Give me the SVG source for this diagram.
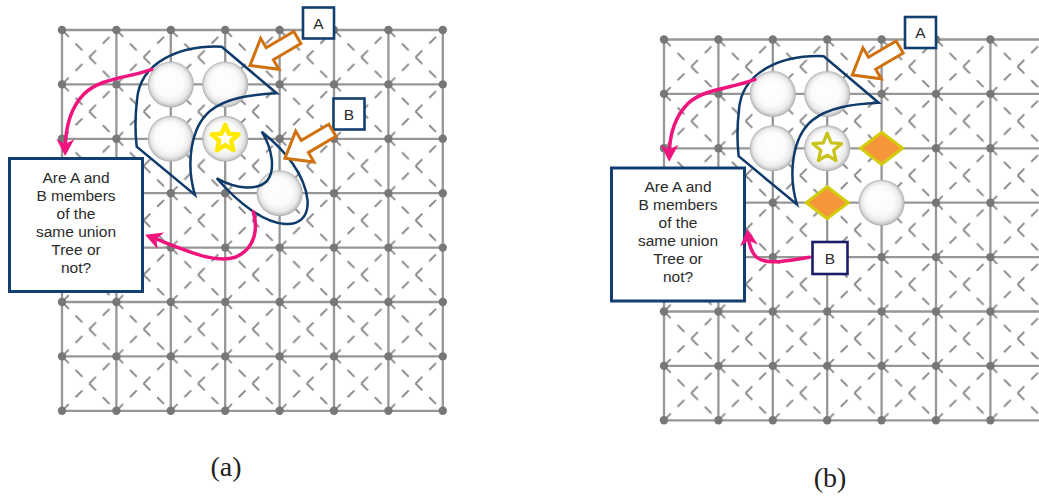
<svg xmlns="http://www.w3.org/2000/svg" width="1039" height="497" viewBox="0 0 1039 497">
<style>
  .gl{fill:none;stroke:#979797;stroke-width:2.3}
  .dot{fill:#777}
  .ball{fill:url(#ballGrad)}
  .set{fill:none;stroke:#0f3b6b;stroke-width:2.5;stroke-linejoin:miter}
  .ptr{fill:#fff;stroke:#d0700f;stroke-width:3;stroke-linejoin:miter}
  .tag{fill:#fff;stroke:#123f6f;stroke-width:2.6}
  .tag-dark{fill:#fff;stroke:#1c1c66;stroke-width:2.6}
  .qbox{fill:#fff;stroke:#123f6f;stroke-width:3}
  .lbl{font-family:"Liberation Sans",Arial,sans-serif;font-size:15.5px;fill:#2b2b2b;text-anchor:middle}
  .pink{fill:none;stroke:#f0147e;stroke-width:3.5;stroke-linecap:round;marker-end:url(#pinkHead)}
  .cap{font-family:"Liberation Serif","Times New Roman",serif;font-size:28px;fill:#222;text-anchor:middle}
  .star-a{fill:#fff;stroke:#ffea00;stroke-width:4.5;stroke-linejoin:round}
  .star-b{fill:#fff;stroke:#c9c31a;stroke-width:3;stroke-linejoin:round}
  .gem{fill:#f7953a;stroke:#d3cc0a;stroke-width:3;stroke-linejoin:miter}
</style>
<defs>
  <radialGradient id="ballGrad" cx="0.5" cy="0.5" r="0.5" fx="0.42" fy="0.38">
    <stop offset="0" stop-color="#ffffff"/>
    <stop offset="0.62" stop-color="#fbfbfb"/>
    <stop offset="0.84" stop-color="#e9e9e9"/>
    <stop offset="0.95" stop-color="#c6c6c6"/>
    <stop offset="1" stop-color="#a4a4a4"/>
  </radialGradient>
  <!-- dashed cross inside each lattice cell -->
  <pattern id="diag" patternUnits="userSpaceOnUse" x="62" y="30" width="54.4" height="54.4">
    <g stroke="#858585" stroke-width="1.8" stroke-dasharray="9.6 9.63" fill="none">
      <line x1="0" y1="0" x2="54.4" y2="54.4"/>
      <line x1="0" y1="54.4" x2="54.4" y2="0"/>
    </g>
  </pattern>
  <marker id="pinkHead" viewBox="-20 -10 22 20" markerWidth="22" markerHeight="20" refX="-7" refY="0" orient="auto" markerUnits="userSpaceOnUse">
    <path d="M0,0 L-17,-9 L-12,0 L-17,9 Z" fill="#f0147e"/>
  </marker>
  <path id="blockArrow" d="M0,0 L23,-18 L23,-7 L55,-7 L55,7 L23,7 L23,18 Z"/>
  <path id="starShape" d="M0,-14 L3.7,-5.1 L13.3,-4.3 L6,1.9 L8.2,11.3 L0,6.3 L-8.2,11.3 L-6,1.9 L-13.3,-4.3 L-3.7,-5.1 Z"/>
  <g id="dotRow" class="dot">
    <circle cx="62" cy="0" r="4.2"/><circle cx="116.4" cy="0" r="4.2"/>
    <circle cx="170.8" cy="0" r="4.2"/><circle cx="225.2" cy="0" r="4.2"/>
    <circle cx="279.6" cy="0" r="4.2"/><circle cx="334" cy="0" r="4.2"/>
    <circle cx="388.4" cy="0" r="4.2"/><circle cx="442.8" cy="0" r="4.2"/>
  </g>
  <!-- 8 x 8 lattice of points -->
  <g id="lattice">
    <rect x="62" y="30" width="380.8" height="380.8" fill="url(#diag)"/>
    <path class="gl" d="M62,30V410.8M116.4,30V410.8M170.8,30V410.8M225.2,30V410.8M279.6,30V410.8M334,30V410.8M388.4,30V410.8M442.8,30V410.8
      M62,30H442.8M62,84.4H442.8M62,138.8H442.8M62,193.2H442.8M62,247.6H442.8M62,302H442.8M62,356.4H442.8M62,410.8H442.8"/>
    <use href="#dotRow" y="30"/><use href="#dotRow" y="84.4"/>
    <use href="#dotRow" y="138.8"/><use href="#dotRow" y="193.2"/>
    <use href="#dotRow" y="247.6"/><use href="#dotRow" y="302"/>
    <use href="#dotRow" y="356.4"/><use href="#dotRow" y="410.8"/>
  </g>
</defs>

<!-- panel (a) -->
<g id="panel-a">
  <use href="#lattice"/>
  <g id="a-ball-1"><circle class="ball" cx="170.8" cy="84.4" r="23"/></g>
  <g id="a-ball-2"><circle class="ball" cx="225.2" cy="84.4" r="23"/></g>
  <g id="a-ball-3"><circle class="ball" cx="170.8" cy="138.8" r="23"/></g>
  <g id="a-ball-root"><circle class="ball" cx="225.2" cy="138.8" r="23"/><use href="#starShape" class="star-a" transform="translate(225.2,138.8)"/></g>
  <g id="a-ball-5"><circle class="ball" cx="279.6" cy="193.2" r="23"/></g>
  <g id="a-set-1"><path class="set" d="M276.7,93.3 L221.7,46.7 C180,45 140,62 137,100 C134,125 136,140 136.7,146.7 L195,195 C186,165 190,128 210,111 C226,98 250,94.5 276.7,93.3 Z"/></g>
  <g id="a-set-2"><path class="set" d="M261.7,131.7 C285,150 305,175 307.5,200 C309,218 298,225 285,224 C265,223 240,205 216.7,178.3 C238,190 258,190 267,181 C276,170 272,148 261.7,131.7 Z"/></g>
  <g id="a-tag-A"><rect class="tag" x="303" y="7.5" width="31" height="31"/><text class="lbl" x="318.5" y="28.5">A</text></g>
  <g id="a-tag-B"><rect class="tag" x="333.5" y="98.5" width="31" height="31"/><text class="lbl" x="349" y="119.5">B</text></g>
  <g id="a-question">
    <rect class="qbox" x="9.5" y="158.5" width="133" height="133"/>
    <text class="lbl" x="76" y="183.3"><tspan x="76">Are A and</tspan><tspan x="76" dy="18">B members</tspan><tspan x="76" dy="18">of the</tspan><tspan x="76" dy="18">same union</tspan><tspan x="76" dy="18">Tree or</tspan><tspan x="76" dy="18">not?</tspan></text>
  </g>
  <g id="a-connectors">
    <use href="#blockArrow" class="ptr" transform="translate(250,65.5) rotate(-30.6)"/>
    <use href="#blockArrow" class="ptr" transform="translate(285,158.3) rotate(-30.6)"/>
    <path class="pink" d="M151.7,69.3 C128,78 100,78 84,94 C70,108 65.5,128 65.2,149"/>
    <path class="pink" d="M253.3,211.7 C258,228 256,248 236,257 C215,264 190,252 151.6,237.2"/>
  </g>
  <text class="cap" x="226" y="476">(a)</text>
</g>

<!-- panel (b) -->
<g id="panel-b" transform="translate(602,9.5)">
  <use href="#lattice"/>
  <g id="b-ball-1"><circle class="ball" cx="170.8" cy="84.4" r="23"/></g>
  <g id="b-ball-2"><circle class="ball" cx="225.2" cy="84.4" r="23"/></g>
  <g id="b-ball-3"><circle class="ball" cx="170.8" cy="138.8" r="23"/></g>
  <g id="b-ball-root"><circle class="ball" cx="225.2" cy="138.8" r="23"/><use href="#starShape" class="star-b" transform="translate(225.2,138.8) scale(1.08)"/></g>
  <g id="b-gem-1"><path class="gem" d="M279.6,122.8 L300.6,138.8 L279.6,154.8 L258.6,138.8 Z"/></g>
  <g id="b-gem-2"><path class="gem" d="M225.2,177.2 L246.2,193.2 L225.2,209.2 L204.2,193.2 Z"/></g>
  <g id="b-ball-6"><circle class="ball" cx="279.6" cy="193.2" r="23"/></g>
  <g id="b-set-1"><path class="set" d="M276.7,93.3 L221.7,46.7 C180,45 140,62 137,100 C134,125 136,140 136.7,146.7 L195,195 C186,165 190,128 210,111 C226,98 250,94.5 276.7,93.3 Z"/></g>
  <g id="b-tag-A"><rect class="tag" x="303" y="7.5" width="31" height="31"/><text class="lbl" x="318.5" y="28.5">A</text></g>
  <g id="b-tag-B"><rect class="tag-dark" x="210.5" y="232.5" width="35" height="32"/><text class="lbl" x="228" y="254">B</text></g>
  <g id="b-question">
    <rect class="qbox" x="9.5" y="158.5" width="133" height="133"/>
    <text class="lbl" x="76" y="182.5"><tspan x="76">Are A and</tspan><tspan x="76" dy="18">B members</tspan><tspan x="76" dy="18">of the</tspan><tspan x="76" dy="18">same union</tspan><tspan x="76" dy="18">Tree or</tspan><tspan x="76" dy="18">not?</tspan></text>
  </g>
  <g id="b-connectors">
    <use href="#blockArrow" class="ptr" transform="translate(250.3,65.5) rotate(-30.6)"/>
    <path class="pink" d="M153,69.8 C130,79 102,79 86,94 C72,108 67.5,126 67.3,145.2"/>
    <path class="pink" d="M207.3,247.8 C185,251 165,256 155,248 C149,243 147,235 146.1,226.1"/>
  </g>
  <text class="cap" x="228" y="477">(b)</text>
</g>
</svg>
